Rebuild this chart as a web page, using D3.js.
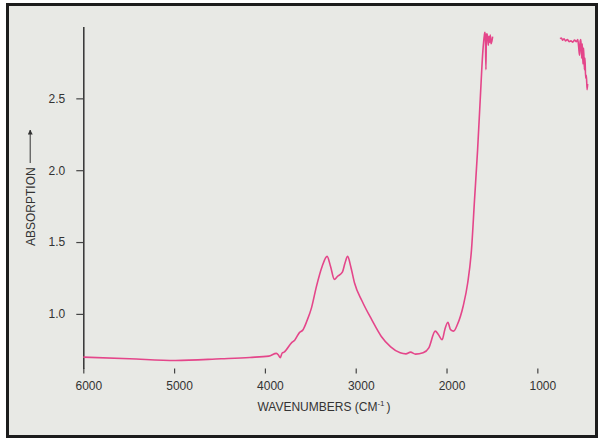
<!DOCTYPE html>
<html>
<head>
<meta charset="utf-8">
<script src="https://cdn.jsdelivr.net/npm/d3@7"></script>
<style>
  body { margin: 0; background: #fff; }
  text { font-family: "Liberation Sans", Arial, sans-serif; fill: #333; }
</style>
</head>
<body>
<div id="fig"></div>
<script>
// IR spectrum
var mainWave = [6000, 5490, 4985, 4481, 4167, 3957, 3873, 3850, 3831, 3810, 3789, 3705, 3672, 3622, 3580, 3538, 3487,
  3433, 3370, 3315, 3277, 3235, 3202, 3147, 3118, 3089, 3055, 3013, 2929, 2824, 2720, 2615, 2510, 2447,
  2396, 2342, 2258, 2195, 2124, 2090, 2048, 2019, 1985, 1956, 1922, 1880, 1817, 1767, 1725, 1692, 1658,
  1629, 1599, 1583, 1578, 1572, 1566, 1561, 1555, 1548, 1540, 1533, 1526, 1518, 1510, 1500, 1492];
var mainAbs = [0.699, 0.688, 0.676, 0.688, 0.697, 0.706, 0.725, 0.712, 0.695, 0.728, 0.734, 0.80, 0.817, 0.868, 0.89, 0.95, 1.042,
  1.19, 1.33, 1.40, 1.33, 1.24, 1.26, 1.29, 1.354, 1.40, 1.33, 1.215, 1.088, 0.96, 0.845, 0.771, 0.729, 0.722,
  0.734, 0.72, 0.729, 0.764, 0.88, 0.857, 0.82, 0.89, 0.942, 0.89, 0.88, 0.926, 1.053, 1.215, 1.447, 1.79, 2.14,
  2.49, 2.836, 2.94, 2.96, 2.93, 2.70, 2.94, 2.95, 2.93, 2.87, 2.93, 2.89, 2.94, 2.88, 2.90, 2.93];

var farWave = [750, 735, 720, 705, 690, 670, 650, 630, 610, 590, 570, 555, 545, 535, 528, 520, 512, 505, 498, 490, 482, 475, 468, 460, 452, 446];
var farAbs = [2.915, 2.92, 2.905, 2.915, 2.90, 2.91, 2.895, 2.90, 2.89, 2.905, 2.895, 2.91, 2.86, 2.80, 2.90, 2.91, 2.78, 2.88, 2.74, 2.85, 2.70, 2.78, 2.64, 2.66, 2.56, 2.60];

var xTicks = [6000, 5000, 4000, 3000, 2000, 1000];
var yTicks = [1.0, 1.5, 2.0, 2.5];

var W = 600, H = 440;

var svg = d3.select("#fig").append("svg")
  .attr("width", W)
  .attr("height", H);

// paper + frame
svg.append("rect")
  .attr("x", 7.5).attr("y", 4.5)
  .attr("width", 589).attr("height", 432)
  .attr("fill", "#e8e9e5")
  .attr("stroke", "#1c1c1c")
  .attr("stroke-width", 3);

var x = d3.scaleLinear().domain([6000, 431]).range([83.3, 589]);
var y = d3.scaleLinear().domain([0.62, 3.0]).range([368.5, 26.5]);

// x axis: scanned line has colour fringes
var grad = svg.append("defs").append("linearGradient")
  .attr("id", "axisGrad");
[[0, "#3d6890"], [0.3, "#4f5a6a"], [0.5, "#7a4d4a"], [0.65, "#46688c"], [0.85, "#6e5048"], [1, "#5b7a6a"]]
  .forEach(function(s) {
    grad.append("stop").attr("offset", s[0]).attr("stop-color", s[1]);
  });

svg.append("line")
  .attr("x1", x(6090)).attr("x2", x(431))
  .attr("y1", y(0.62)).attr("y2", y(0.62))
  .attr("stroke", "url(#axisGrad)")
  .attr("stroke-width", 2);

var xAxis = svg.append("g")
  .attr("transform", "translate(0," + y(0.62) + ")")
  .call(d3.axisBottom(x).tickValues(xTicks).tickFormat(d3.format("d")).tickSize(5).tickPadding(8));
xAxis.select(".domain").remove();
xAxis.selectAll("line").attr("stroke", "#444").attr("stroke-width", 1.2);
xAxis.selectAll("text").attr("dx", 5).style("font-size", "12px").attr("fill", "#333");

var yAxis = svg.append("g")
  .attr("transform", "translate(" + x(6000) + ",0)")
  .call(d3.axisLeft(y).tickValues(yTicks).tickFormat(d3.format(".1f")).tickSize(7).tickPadding(11).tickSizeOuter(0));
yAxis.select(".domain").attr("stroke", "#333").attr("stroke-width", 1.5);
yAxis.selectAll("line").attr("stroke", "#444").attr("stroke-width", 1.2);
yAxis.selectAll("text").style("font-size", "12px").attr("fill", "#333");

// spectrum
var line = d3.line()
  .x(function(d) { return x(d[0]); })
  .y(function(d) { return y(d[1]); })
  .curve(d3.curveMonotoneX);

[[mainWave, mainAbs], [farWave, farAbs]].forEach(function(s) {
  var pts = s[0].map(function(w, i) { return [w, s[1][i]]; });
  svg.append("path")
    .datum(pts)
    .attr("d", line)
    .attr("fill", "none")
    .attr("stroke", "#e4468a")
    .attr("stroke-width", 1.6)
    .attr("stroke-linejoin", "round");
});

// axis titles
var xt = svg.append("text")
  .attr("x", 324).attr("y", 411)
  .attr("text-anchor", "middle")
  .style("font-size", "12px");
xt.append("tspan").text("WAVENUMBERS (CM");
xt.append("tspan").attr("dy", -5).style("font-size", "8px").text("-1");
xt.append("tspan").attr("dy", 5).attr("dx", 2).text(")");

svg.append("defs").append("marker")
  .attr("id", "arr")
  .attr("viewBox", "0 0 10 10")
  .attr("refX", 9).attr("refY", 5)
  .attr("markerWidth", 5).attr("markerHeight", 5)
  .attr("orient", "auto")
  .append("path").attr("d", "M0,0L10,5L0,10Z").attr("fill", "#333");

var yt = svg.append("g").attr("transform", "translate(34.5,246) rotate(-90)");
yt.append("text").attr("x", 0).attr("y", 0).style("font-size", "12px").text("ABSORPTION");
yt.append("line")
  .attr("x1", 83).attr("x2", 116)
  .attr("y1", -4.3).attr("y2", -4.3)
  .attr("stroke", "#333").attr("stroke-width", 1)
  .attr("marker-end", "url(#arr)");
</script>
</body>
</html>
